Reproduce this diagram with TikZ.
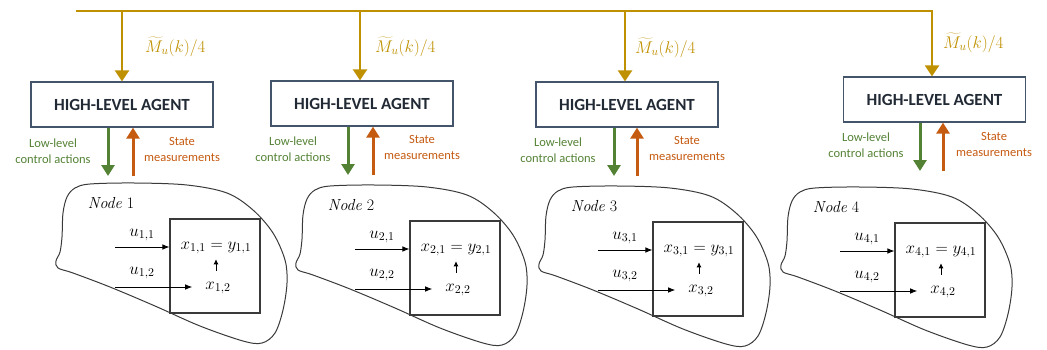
\RequirePackage{fix-cm}
\documentclass[tikz,border=0pt]{standalone}
\usepackage{fontspec}
\newfontfamily\carl{Carlito}
\usetikzlibrary{arrows.meta}
\definecolor{gold}{HTML}{BF9000}
\definecolor{grn}{HTML}{548235}
\definecolor{org}{HTML}{C55A11}
\definecolor{navy}{HTML}{222A35}
\definecolor{slate}{HTML}{44546A}
\definecolor{dgray}{HTML}{3A3A3A}
\tikzset{
  hla/.style={draw=slate, line width=1.3pt, fill=white, minimum width=182pt, minimum height=45pt,
    inner sep=0pt, font=\carl\bfseries\fontsize{17}{20}\selectfont, text=navy},
  goldline/.style={draw=gold, line width=2.5pt},
  goldarrow/.style={goldline, -{Triangle[length=11pt,width=14pt]}},
  grnarrow/.style={draw=grn, line width=3pt, -{Triangle[length=11pt,width=13pt]}},
  orgarrow/.style={draw=org, line width=3pt, -{Triangle[length=11pt,width=13pt]}},
  mlab/.style={inner sep=0pt, text=gold, font=\fontsize{17}{20}\selectfont},
  glab/.style={inner sep=0pt, text=grn, align=center, font=\carl\fontsize{12.5}{16}\selectfont},
  olab/.style={inner sep=0pt, text=org, align=center, font=\carl\fontsize{12.5}{16}\selectfont},
  blobline/.style={draw=dgray, line width=1pt},
  ibox/.style={draw=dgray, line width=1.1pt, minimum width=90pt, minimum height=94pt, inner sep=0pt},
  mtext/.style={inner sep=1pt, font=\fontsize{17}{20}\selectfont},
  ntext/.style={inner sep=0pt, font=\fontsize{16}{19}\selectfont},
  iarrow/.style={draw=black, line width=0.8pt, -{Latex[length=7pt,width=5.5pt]}},
  sarrow/.style={draw=black, line width=0.8pt, -{Latex[length=5pt,width=5pt]}}
}
\begin{document}
\begin{tikzpicture}[x=1pt,y=-1pt]
\useasboundingbox (0,0) rectangle (1047,349);
% high-level agents
\node[hla] (h1) at (122,104.5) {HIGH-LEVEL AGENT};
\node[hla] (h2) at (362,103.5) {HIGH-LEVEL AGENT};
\node[hla] (h3) at (627,104.5) {HIGH-LEVEL AGENT};
\node[hla] (h4) at (934.5,99.5) {HIGH-LEVEL AGENT};
% bus
\coordinate (bs) at (76,11);
\coordinate (b1) at (122,11);
\coordinate (b2) at (360,11);
\coordinate (b3) at (625,11);
\coordinate (b4) at (932,11);
\draw[goldarrow, line join=miter] (bs) -- (b4) -- (b4 |- h4.north);
\draw[goldarrow] (b1) -- (b1 |- h1.north);
\draw[goldarrow] (b2) -- (b2 |- h2.north);
\draw[goldarrow] (b3) -- (b3 |- h3.north);
\node[mlab, anchor=west] (m1) at (145,47) {$\widetilde{M}_u(k)/4$};
\node[mlab, anchor=west] (m2) at (375,47) {$\widetilde{M}_u(k)/4$};
\node[mlab, anchor=west] (m3) at (635,48) {$\widetilde{M}_u(k)/4$};
\node[mlab, anchor=west] (m4) at (943,43) {$\widetilde{M}_u(k)/4$};
% control / measurement arrows
\coordinate (g1) at (108,176);
\coordinate (o1) at (133,176);
\coordinate (g2) at (348,175);
\coordinate (o2) at (373,175);
\coordinate (g3) at (614,176);
\coordinate (o3) at (637,176);
\coordinate (g4) at (920,171);
\coordinate (o4) at (943,171);
\foreach \i in {1,2,3,4}{
  \draw[grnarrow] (h\i.south -| g\i) -- (g\i);
  \draw[orgarrow] (o\i) -- (h\i.south -| o\i);
}
\node[glab] (gl1) at (53,151) {Low-level\\control actions};
\node[olab] (ol1) at (182,149.5) {State\\measurements};
\node[glab] (gl2) at (293,149.5) {Low-level\\control actions};
\node[olab] (ol2) at (422,147.5) {State\\measurements};
\node[glab] (gl3) at (558,150) {Low-level\\control actions};
\node[olab] (ol3) at (687,148.5) {State\\measurements};
\node[glab] (gl4) at (866,145.5) {Low-level\\control actions};
\node[olab] (ol4) at (994,144) {State\\measurements};
% nodes
\foreach \i/\bx/\by in {1/55/183, 2/295/185, 3/538/186, 4/780/187}{
  \begin{scope}[shift={(\bx,\by)}]
    \draw[blobline] plot[smooth cycle, tension=0.55] coordinates {
      (18,90) (3,85) (1,78) (5,69) (7,54) (8,30) (12,14) (20,5) (35,1) (80,0)
      (132,2) (172,10) (198,27) (218,50) (230,77) (232,100) (228,127) (220,150)
      (207,160) (188,158) (145,143) (100,123) (55,104)};
    \node[ibox] (ib\i) at (160,83) {};
    \node[ntext] (nl\i) at (56,20) {{\itshape Node} \i};
    \node[mtext] (ua\i) at (87,52) {$u_{\i,1}$};
    \node[mtext] (ub\i) at (87,90) {$u_{\i,2}$};
    \node[mtext] (xa\i) at (161,65) {$x_{\i,1}=y_{\i,1}$};
    \node[mtext] (xb\i) at (163,105) {$x_{\i,2}$};
    \coordinate (sa\i) at (60,64);
    \coordinate (sb\i) at (60,104);
    \draw[iarrow] (sa\i) -- (sa\i -| ib\i.west);
    \draw[iarrow] (sb\i) -- ([xshift=-12pt]sb\i -| xb\i.west);
    \draw[sarrow, shorten <=10pt, shorten >=4pt] (xb\i.north -| xa\i.south) -- (xa\i.south);
  \end{scope}
}
\end{tikzpicture}
\end{document}
